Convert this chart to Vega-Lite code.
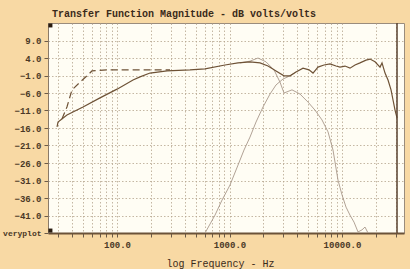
{
  "$schema": "https://vega.github.io/schema/vega-lite/v6.json",
  "autosize": "none",
  "width": 356,
  "height": 210,
  "padding": {"left": 48, "top": 23, "right": 6, "bottom": 36},
  "background": "#F8D9A4",
  "title": {
    "text": "Transfer Function Magnitude - dB volts/volts",
    "anchor": "start",
    "frame": "group",
    "dx": 4,
    "offset": 3,
    "font": "Liberation Mono",
    "fontSize": 10,
    "fontWeight": "bold",
    "color": "#3a2a1a"
  },
  "config": {
    "view": {"fill": "#FFFDF4", "stroke": "#9a8c7c", "strokeWidth": 1},
    "axis": {
      "labelFont": "Liberation Mono",
      "labelFontSize": 9,
      "labelFontWeight": "bold",
      "labelColor": "#4a3826",
      "tickColor": "#6b5a48",
      "tickSize": 4,
      "gridColor": "#b5a58e",
      "gridDash": [1.5, 2],
      "gridWidth": 0.8,
      "titleFont": "Liberation Mono",
      "titleFontSize": 10,
      "titleFontWeight": "normal",
      "titleColor": "#3a2a1a"
    }
  },
  "datasets": {
    "curves": [
      {"f": 29.3, "db": -15.7, "s": "total"},
      {"f": 29.9, "db": -14.3, "s": "total"},
      {"f": 35.9, "db": -12.3, "s": "total"},
      {"f": 49.9, "db": -10.0, "s": "total"},
      {"f": 70.6, "db": -7.4, "s": "total"},
      {"f": 100, "db": -4.9, "s": "total"},
      {"f": 138.8, "db": -2.3, "s": "total"},
      {"f": 160.1, "db": -1.4, "s": "total"},
      {"f": 196.5, "db": -0.3, "s": "total"},
      {"f": 278.3, "db": 0.3, "s": "total"},
      {"f": 445.6, "db": 0.6, "s": "total"},
      {"f": 605.7, "db": 0.9, "s": "total"},
      {"f": 912, "db": 2.0, "s": "total"},
      {"f": 1190, "db": 2.6, "s": "total"},
      {"f": 1521, "db": 2.9, "s": "total"},
      {"f": 1867, "db": 2.6, "s": "total"},
      {"f": 2199, "db": 1.7, "s": "total"},
      {"f": 2591, "db": 0.3, "s": "total"},
      {"f": 3051, "db": -1.1, "s": "total"},
      {"f": 3450, "db": -1.1, "s": "total"},
      {"f": 3900, "db": 0.0, "s": "total"},
      {"f": 4500, "db": 1.1, "s": "total"},
      {"f": 5090, "db": 0.6, "s": "total"},
      {"f": 5524, "db": -0.3, "s": "total"},
      {"f": 6118, "db": 1.4, "s": "total"},
      {"f": 6918, "db": 2.0, "s": "total"},
      {"f": 7823, "db": 2.3, "s": "total"},
      {"f": 8845, "db": 1.7, "s": "total"},
      {"f": 9600, "db": 1.4, "s": "total"},
      {"f": 10634, "db": 1.7, "s": "total"},
      {"f": 11777, "db": 1.1, "s": "total"},
      {"f": 13050, "db": 2.0, "s": "total"},
      {"f": 14454, "db": 2.6, "s": "total"},
      {"f": 16341, "db": 3.4, "s": "total"},
      {"f": 17740, "db": 3.7, "s": "total"},
      {"f": 19653, "db": 2.9, "s": "total"},
      {"f": 21770, "db": 1.4, "s": "total"},
      {"f": 22679, "db": 2.6, "s": "total"},
      {"f": 24114, "db": -0.3, "s": "total"},
      {"f": 25641, "db": -2.3, "s": "total"},
      {"f": 27266, "db": -5.1, "s": "total"},
      {"f": 28405, "db": -8.0, "s": "total"},
      {"f": 29591, "db": -10.9, "s": "total"},
      {"f": 30825, "db": -13.1, "s": "total"},

      {"f": 32.4, "db": -13.4, "s": "dashed"},
      {"f": 35.9, "db": -10.0, "s": "dashed"},
      {"f": 39.8, "db": -5.1, "s": "dashed"},
      {"f": 46.9, "db": -2.9, "s": "dashed"},
      {"f": 54.1, "db": -1.1, "s": "dashed"},
      {"f": 59.9, "db": 0.3, "s": "dashed"},
      {"f": 81.5, "db": 0.6, "s": "dashed"},
      {"f": 160, "db": 0.6, "s": "dashed"},
      {"f": 295.9, "db": 0.6, "s": "dashed"},

      {"f": 1240, "db": 2.6, "s": "woofer"},
      {"f": 1521, "db": 3.1, "s": "woofer"},
      {"f": 1792, "db": 4.0, "s": "woofer"},
      {"f": 2110, "db": 2.9, "s": "woofer"},
      {"f": 2487, "db": 0.6, "s": "woofer"},
      {"f": 2811, "db": -2.9, "s": "woofer"},
      {"f": 3051, "db": -6.0, "s": "woofer"},
      {"f": 3594, "db": -5.1, "s": "woofer"},
      {"f": 4233, "db": -6.3, "s": "woofer"},
      {"f": 4987, "db": -8.6, "s": "woofer"},
      {"f": 5754, "db": -10.9, "s": "woofer"},
      {"f": 6641, "db": -13.7, "s": "woofer"},
      {"f": 7510, "db": -17.1, "s": "woofer"},
      {"f": 8318, "db": -22.3, "s": "woofer"},
      {"f": 9213, "db": -30.9, "s": "woofer"},
      {"f": 10000, "db": -35.1, "s": "woofer"},
      {"f": 10854, "db": -38.6, "s": "woofer"},
      {"f": 11777, "db": -40.9, "s": "woofer"},
      {"f": 12788, "db": -42.9, "s": "woofer"},
      {"f": 13874, "db": -45.7, "s": "woofer"},
      {"f": 15058, "db": -45.1, "s": "woofer"},
      {"f": 16009, "db": -44.3, "s": "woofer"},
      {"f": 17025, "db": -46.0, "s": "woofer"},

      {"f": 606, "db": -46.0, "s": "tweeter"},
      {"f": 743, "db": -40.9, "s": "tweeter"},
      {"f": 858, "db": -36.6, "s": "tweeter"},
      {"f": 1010, "db": -32.3, "s": "tweeter"},
      {"f": 1190, "db": -26.6, "s": "tweeter"},
      {"f": 1345, "db": -22.3, "s": "tweeter"},
      {"f": 1521, "db": -18.6, "s": "tweeter"},
      {"f": 1720, "db": -14.3, "s": "tweeter"},
      {"f": 1985, "db": -10.0, "s": "tweeter"},
      {"f": 2291, "db": -6.3, "s": "tweeter"},
      {"f": 2591, "db": -3.7, "s": "tweeter"},
      {"f": 2989, "db": -2.0, "s": "tweeter"},
      {"f": 3450, "db": -1.1, "s": "tweeter"},
      {"f": 3900, "db": 0.0, "s": "tweeter"}
    ],
    "markers": [
      {"f": 25.6, "db": 13.3},
      {"f": 25.6, "db": -45.3}
    ],
    "cursor": [
      {"f": 30825}
    ]
  },
  "data": {"name": "curves"},
  "encoding": {
    "x": {
      "field": "f",
      "type": "quantitative",
      "scale": {"type": "log", "domain": [24.36, 35560], "nice": false},
      "axis": {
        "title": "log Frequency - Hz",
        "titlePadding": 9,
        "titleX": 172,
        "values": [30, 40, 50, 60, 70, 80, 90, 100, 200, 300, 400, 500, 600, 700, 800, 900, 1000, 2000, 3000, 4000, 5000, 6000, 7000, 8000, 9000, 10000, 20000, 30000],
        "labelExpr": "datum.value == 100 ? '100.0' : datum.value == 1000 ? '1000.0' : datum.value == 10000 ? '10000.0' : ''",
        "labelPadding": 3,
        "labelFlush": false,
        "domainColor": "#6b5238",
        "domainWidth": 2
      }
    },
    "y": {
      "field": "db",
      "type": "quantitative",
      "scale": {"domain": [-46, 14], "nice": false, "zero": false},
      "axis": {
        "title": null,
        "values": [-46, -41, -36, -31, -26, -21, -16, -11, -6, -1, 4, 9],
        "labelExpr": "datum.value == -46 ? 'veryplot' : format(datum.value, '.1f')",
        "labelFontSize": {"condition": {"test": "datum.value == -46", "value": 8}, "value": 9},
        "labelPadding": 3,
        "labelLimit": 0,
        "domainColor": "#8a7a68",
        "domainWidth": 1
      }
    }
  },
  "layer": [
    {
      "transform": [{"filter": "datum.s == 'tweeter' || datum.s == 'woofer'"}],
      "mark": {"type": "line", "color": "#a8978a", "strokeWidth": 0.9},
      "encoding": {"detail": {"field": "s"}}
    },
    {
      "transform": [{"filter": "datum.s == 'dashed'"}],
      "mark": {"type": "line", "color": "#6e5236", "strokeWidth": 1.2, "strokeDash": [7, 4]}
    },
    {
      "transform": [{"filter": "datum.s == 'total'"}],
      "mark": {"type": "line", "color": "#6e5236", "strokeWidth": 1.2}
    },
    {
      "data": {"name": "cursor"},
      "mark": {"type": "rule", "color": "#5a4230", "strokeWidth": 1.5},
      "encoding": {"x": {"field": "f", "type": "quantitative"}, "y": null}
    },
    {
      "data": {"name": "markers"},
      "mark": {"type": "point", "shape": "square", "filled": true, "size": 16, "color": "#2a1c10", "opacity": 1}
    }
  ]
}
